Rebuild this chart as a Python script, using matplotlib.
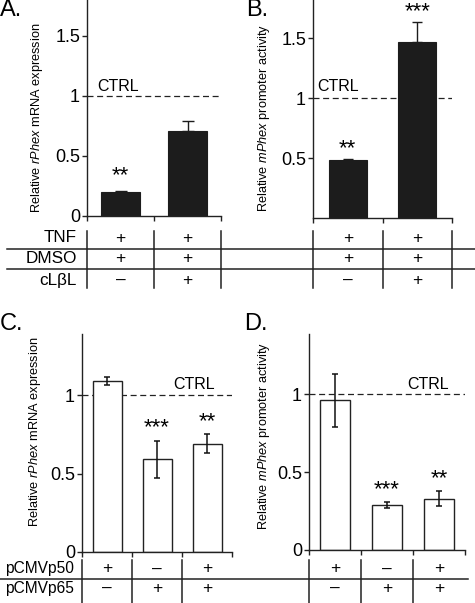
import matplotlib
matplotlib.use("Agg")
import matplotlib.pyplot as plt
from matplotlib import transforms
from matplotlib.lines import Line2D

plt.rcParams['font.family'] = ['Liberation Sans', 'DejaVu Sans']
plt.rcParams['mathtext.fontset'] = 'custom'
plt.rcParams['mathtext.rm'] = 'Liberation Sans'
plt.rcParams['mathtext.it'] = 'Liberation Sans:italic'

# ---------------- data ----------------
a_values = [0.20, 0.71]
a_err = [0.01, 0.085]
a_stars = ['**', '']

b_values = [0.48, 1.47]
b_err = [0.01, 0.16]
b_stars = ['**', '***']

c_values = [1.09, 0.59, 0.69]
c_err = [0.025, 0.12, 0.06]
c_stars = ['', '***', '**']

d_values = [0.96, 0.29, 0.33]
d_err = [0.17, 0.018, 0.048]
d_stars = ['', '***', '**']

ab_rows = ['TNF', 'DMSO', 'cLβL']
ab_table = [['+', '+'], ['+', '+'], ['–', '+']]
cd_rows = ['pCMVp50', 'pCMVp65']
cd_table = [['+', '–', '+'], ['–', '+', '+']]

a_ylabel = r'Relative $\mathit{rPhex}$ mRNA expression'
b_ylabel = r'Relative $\mathit{mPhex}$ promoter activity'
c_ylabel = r'Relative $\mathit{rPhex}$ mRNA expression'
d_ylabel = r'Relative $\mathit{mPhex}$ promoter activity'

# ---------------- layout ----------------
W, H = 475, 603
fig = plt.figure(figsize=(W / 100, H / 100), dpi=100)


def rect(l, t, r, b):
    return [l / W, 1 - b / H, (r - l) / W, (b - t) / H]


def fy(y):
    return 1 - y / H


def panel(box, values, err, stars, ylim, yticks, ylabels, filled, ylabel,
          label_xy, star_off, capsize, ctrl_x, ctrl_y, width):
    ax = fig.add_axes(rect(*box))
    n = len(values)
    x = list(range(n))
    if filled:
        ax.bar(x, values, width=width, color='#1c1c1c', edgecolor='#1c1c1c',
               linewidth=0.8, zorder=2)
        ax.errorbar(x, values, yerr=[[0] * n, err], fmt='none', ecolor='#1c1c1c',
                    elinewidth=1.0, capsize=capsize, capthick=1.0, zorder=3)
    else:
        ax.bar(x, values, width=width, color='white', edgecolor='#222222',
               linewidth=1.0, zorder=2)
        ax.errorbar(x, values, yerr=err, fmt='none', ecolor='#111111',
                    elinewidth=1.1, capsize=capsize, capthick=1.1, zorder=3)
    ax.set_xlim(-0.5, n - 0.5)
    ax.set_ylim(*ylim)
    ax.axhline(1.0, color='#222222', lw=0.9, linestyle=(0, (4.8, 2.9)), zorder=1)
    ax.text(ctrl_x, ctrl_y, 'CTRL', transform=ax.transAxes, fontsize=11.5,
            ha='left', va='center')
    for i, s in enumerate(stars):
        if s:
            top = values[i] + err[i]
            ax.text(i, top + star_off, s, ha='center', va='center', fontsize=16)
    for sp in ['top', 'right']:
        ax.spines[sp].set_visible(False)
    for sp in ['left', 'bottom']:
        ax.spines[sp].set_linewidth(1.0)
        ax.spines[sp].set_color('#222222')
    ax.set_xticks([i - 0.5 for i in range(n + 1)])
    ax.set_xticklabels([])
    ax.set_yticks(yticks)
    ax.set_yticklabels(ylabels, fontsize=13)
    ax.tick_params(axis='both', direction='out', length=3.5, width=1.0,
                   color='#222222', pad=1.5)
    ax.set_ylabel(ylabel, fontsize=9.2)
    ax.yaxis.set_label_coords(*label_xy)
    return ax


axA = panel((87, 0, 221, 216), a_values, a_err, a_stars, (0, 1.8),
            [0, 0.5, 1, 1.5], ['0', '0.5', '1', '1.5'], True, a_ylabel,
            (-0.315, 0.455), 0.13, 4.5, 0.075, 0.6, 0.58)
axB = panel((313, 0, 452, 218), b_values, b_err, b_stars, (0, 1.817),
            [0.5, 1, 1.5], ['0.5', '1', '1.5'], True, b_ylabel,
            (-0.297, 0.46), 0.09, 3.5, 0.03, 0.605, 0.55)
axC = panel((82, 334, 232, 552), c_values, c_err, c_stars, (0, 1.389),
            [0, 0.5, 1], ['0', '0.5', '1'], False, c_ylabel,
            (-0.26, 0.55), 0.08, 2.2, 0.61, 0.77, 0.58)
axD = panel((309, 334, 465, 550), d_values, d_err, d_stars, (0, 1.385),
            [0, 0.5, 1], ['0', '0.5', '1'], False, d_ylabel,
            (-0.24, 0.53), 0.08, 2.2, 0.63, 0.765, 0.56)

# panel letters
for txt, x, y in [('A.', 0, 10), ('B.', 246, 10), ('C.', 0, 324), ('D.', 244, 324)]:
    fig.text(x / W, fy(y), txt, fontsize=17, ha='left', va='center')

# ---------------- tables ----------------
def hline(x0, x1, y):
    fig.add_artist(Line2D([x0 / W, x1 / W], [fy(y), fy(y)], color='#222222',
                          lw=1.1, transform=fig.transFigure))


def table(ax, rows, cells, row_y, vtop, vbot, label_right, with_right_sep, fs):
    tr = transforms.blended_transform_factory(ax.transData, fig.transFigure)
    n = len(cells[0])
    seps = [i - 0.5 for i in range(n + 1)] if with_right_sep else [i - 0.5 for i in range(n)]
    for s in seps:
        fig.add_artist(Line2D([s, s], [fy(vtop), fy(vbot)], color='#222222',
                              lw=1.1, transform=tr))
    for r, y in enumerate(row_y):
        if rows:
            fig.text(label_right / W, fy(y), rows[r], fontsize=fs, ha='right', va='center')
        for i, c in enumerate(cells[r]):
            ax.text(i, fy(y), c, transform=tr, fontsize=12.5, ha='center', va='center')


ab_y = [238, 259, 280]
table(axA, ab_rows, ab_table, ab_y, 231, 288, 77, True, 12.3)
table(axB, None, ab_table, ab_y, 231, 288, 0, True, 12.3)
hline(7, 475, 248.5)
hline(7, 475, 268.5)

cd_y = [569, 588]
table(axC, cd_rows, cd_table, cd_y, 560, 603, 74, False, 11.2)
table(axD, None, cd_table, cd_y, 560, 603, 0, False, 11.2)
hline(0, 468, 578.5)

fig.savefig('out.png', dpi=100)
